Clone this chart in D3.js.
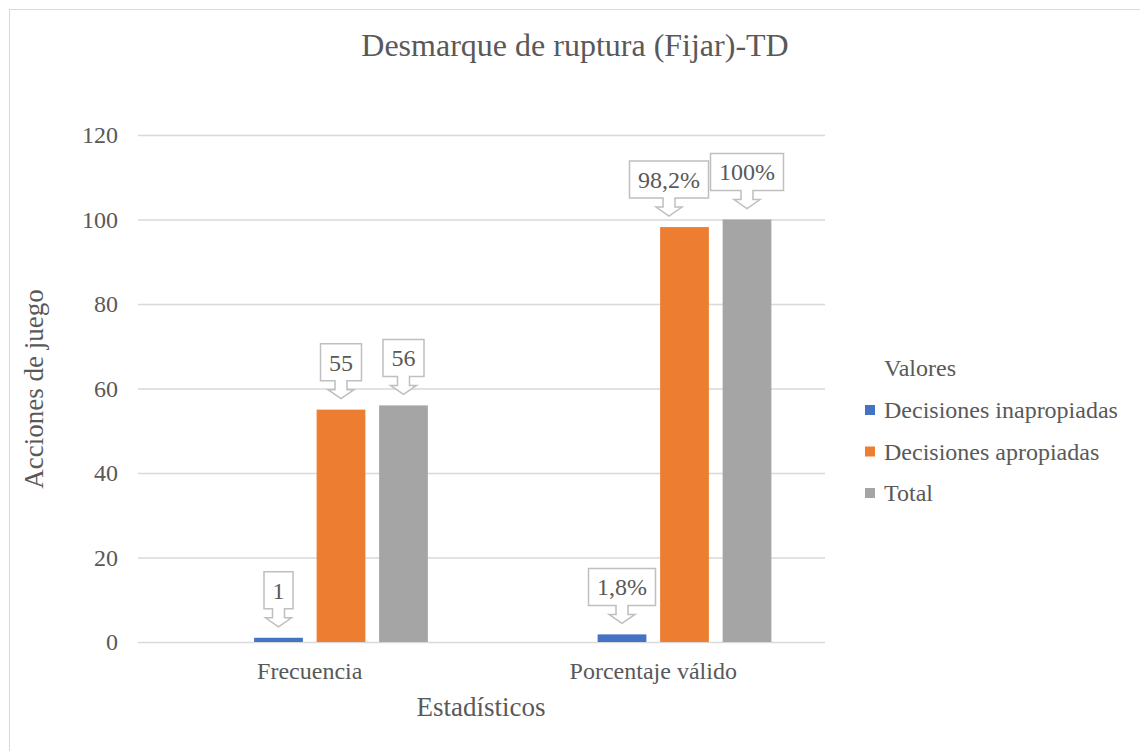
<!DOCTYPE html>
<html>
<head>
<meta charset="utf-8">
<script src="https://cdn.jsdelivr.net/npm/d3@7"></script>
<style>
	body { margin: 0; background: #fff; }
	text { font-family: "Liberation Serif", "Times New Roman", serif; fill: #595959; }
</style>
</head>
<body>
<svg id="canvas" width="1140" height="751"></svg>
<script>
var categories = ['Frecuencia', 'Porcentaje válido']
var series = ['Decisiones inapropiadas', 'Decisiones apropiadas', 'Total']
var colors = ['#4472C4', '#ED7D31', '#A5A5A5']
var inapropiadas = [1, 1.8]
var apropiadas = [55, 98.2]
var total = [56, 100]
var inapropiadasLbl = ['1', '1,8%']
var apropiadasLbl = ['55', '98,2%']
var totalLbl = ['56', '100%']
var yTicks = [0, 20, 40, 60, 80, 100, 120]

var values = [inapropiadas, apropiadas, total]
var labels = [inapropiadasLbl, apropiadasLbl, totalLbl]

var svg = d3.select('#canvas')

// chart frame
svg.append('rect')
	.attr('x', 9.5).attr('y', 9.5)
	.attr('width', 1140).attr('height', 760)
	.style('fill', 'none')
	.style('stroke', '#d9d9d9')

var x0 = d3.scaleBand().domain(categories).range([138, 825])
// excel leaves a slot for an empty first series
var x1 = d3.scaleBand().domain(['_'].concat(series))
	.range([46.75, 296.75]).paddingInner(0.22).paddingOuter(0.11)
var y = d3.scaleLinear().domain([0, 120]).range([642, 135])

// gridlines
svg.append('g').selectAll('line').data(yTicks).enter().append('line')
	.attr('x1', 138).attr('x2', 825)
	.attr('y1', function(d){ return y(d) + 0.5 })
	.attr('y2', function(d){ return y(d) + 0.5 })
	.style('stroke', '#d9d9d9')
	.style('stroke-width', 1.3)

var yAxis = svg.append('g')
	.attr('transform', 'translate(118,0)')
	.call(d3.axisLeft(y).tickValues(yTicks).tickSize(0).tickPadding(0))
yAxis.select('.domain').remove()
yAxis.selectAll('text')
	.style('font-size', '24px')
	.style('font-family', '"Liberation Serif", serif')
	.attr('fill', '#595959')
	.attr('dy', '0.33em')

var xAxis = svg.append('g')
	.attr('transform', 'translate(0,642)')
	.call(d3.axisBottom(x0).tickSize(0).tickPadding(0))
xAxis.select('.domain').remove()
xAxis.selectAll('text')
	.style('font-size', '24px')
	.style('font-family', '"Liberation Serif", serif')
	.attr('fill', '#595959')
	.attr('y', 37)
	.attr('dy', 0)

// bars
var groups = svg.append('g').selectAll('g').data(series).enter().append('g')
	.style('fill', function(d, i){ return colors[i] })

groups.selectAll('rect')
	.data(function(d, i){ return categories.map(function(c, j){ return {s: d, c: c, v: values[i][j], l: labels[i][j]} }) })
	.enter().append('rect')
	.attr('x', function(d){ return x0(d.c) + x1(d.s) })
	.attr('width', x1.bandwidth())
	.attr('y', function(d){ return y(d.v) })
	.attr('height', function(d){ return y(0) - y(d.v) })

// callouts
var allPts = []
series.forEach(function(s, i){
	categories.forEach(function(c, j){
		allPts.push({s: s, c: c, i: i, j: j, v: values[i][j], l: labels[i][j]})
	})
})

var callout = svg.append('g').selectAll('g').data(allPts).enter().append('g')

callout.append('text')
	.attr('text-anchor', 'middle')
	.attr('y', -36.5)
	.attr('dy', '0.35em')
	.style('font-size', '24px')
	.text(function(d){ return d.l })

callout.each(function(d){
	d.w = this.querySelector('text').getComputedTextLength() / 2 + 8.5
	d.cx = x0(d.c) + x1(d.s) + x1.bandwidth() / 2
	d.dx = 0
})

// push a box left when it runs into its right neighbour (as excel does)
categories.forEach(function(c, j){
	var row = allPts.filter(function(d){ return d.j == j })
	for (var k = row.length - 2; k >= 0; k--) {
		var a = row[k], b = row[k + 1]
		var aTop = y(a.v) - 66, bTop = y(b.v) - 66
		if (Math.abs(aTop - bTop) < 37) {
			var over = (a.cx + a.dx + a.w) - (b.cx + b.dx - b.w - 2)
			if (over > 0) a.dx -= over
		}
	}
})

callout.attr('transform', function(d){
	return 'translate(' + (d.cx + d.dx) + ',' + (y(d.v) - 11) + ')'
})

callout.insert('path', 'text')
	.attr('d', function(d){
		var w = d.w
		var top = -55, bot = -18, sw = 6, hw = 13
		return 'M' + (-w) + ',' + top + 'H' + w + 'V' + bot + 'H' + sw + 'V-9H' + hw +
			'L0,0L' + (-hw) + ',-9H' + (-sw) + 'V' + bot + 'H' + (-w) + 'Z'
	})
	.style('fill', '#fff')
	.style('stroke', '#bfbfbf')
	.style('stroke-width', 1.5)

// title & axis titles
svg.append('text')
	.attr('x', 575).attr('y', 56)
	.attr('text-anchor', 'middle')
	.style('font-size', '32px')
	.text('Desmarque de ruptura (Fijar)-TD')

svg.append('text')
	.attr('transform', 'translate(43,389) rotate(-90)')
	.attr('text-anchor', 'middle')
	.style('font-size', '27px')
	.text('Acciones de juego')

svg.append('text')
	.attr('x', 481).attr('y', 716)
	.attr('text-anchor', 'middle')
	.style('font-size', '27px')
	.text('Estadísticos')

// legend
var legend = svg.append('g').attr('transform', 'translate(865,0)')
legend.append('text')
	.attr('x', 19).attr('y', 376)
	.style('font-size', '24px')
	.text('Valores')

var item = legend.selectAll('.item').data(series).enter().append('g')
	.attr('class', 'item')
	.attr('transform', function(d, i){ return 'translate(0,' + (410 + i * 41.5) + ')' })
item.append('rect')
	.attr('x', 0).attr('y', -5)
	.attr('width', 10).attr('height', 10)
	.style('fill', function(d, i){ return colors[i] })
item.append('text')
	.attr('x', 19).attr('dy', '0.35em')
	.style('font-size', '24px')
	.text(function(d){ return d })
</script>
</body>
</html>
